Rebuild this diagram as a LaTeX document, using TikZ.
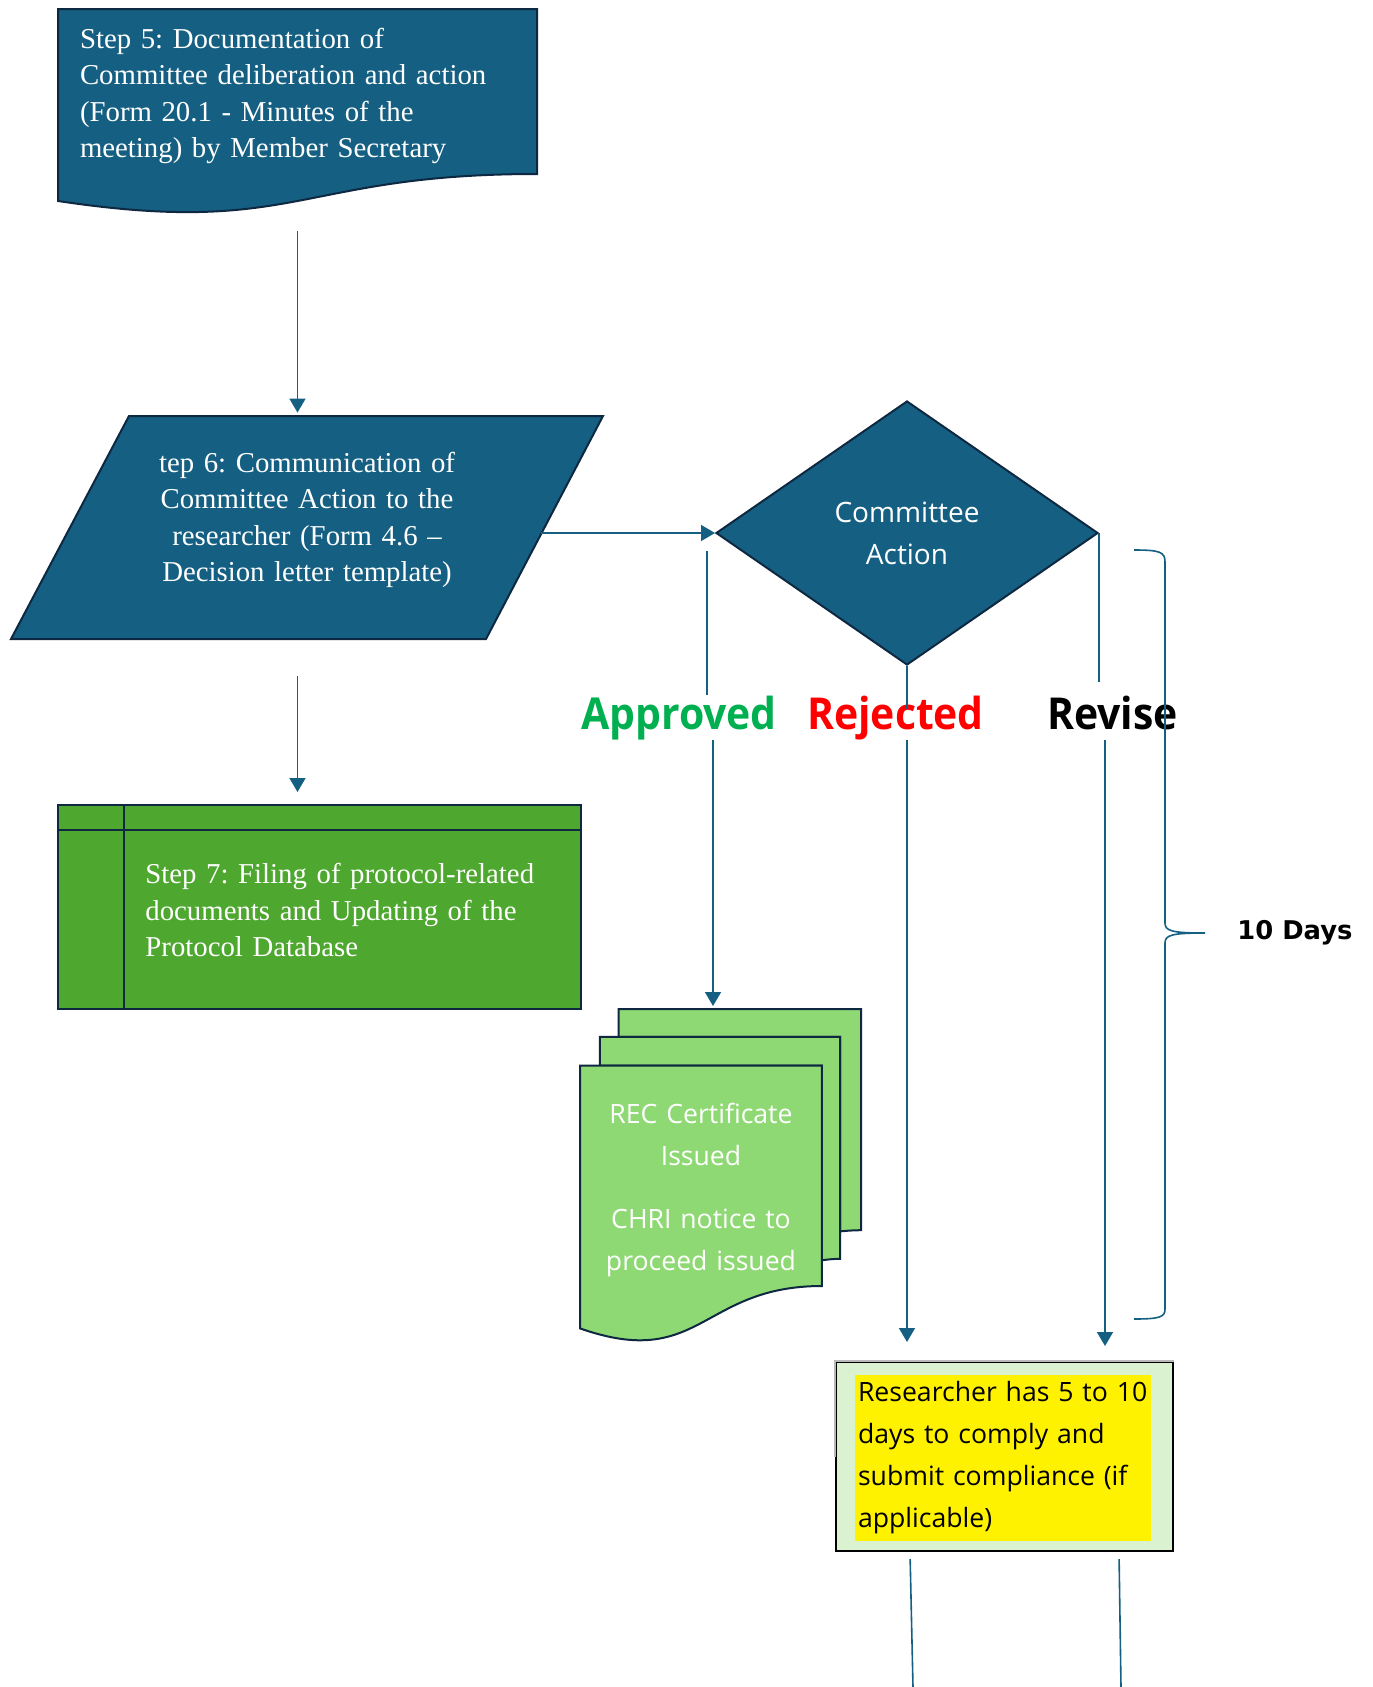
\documentclass[tikz,border=0pt]{standalone}
\usepackage{fontspec}
\setmainfont{Liberation Serif}
\newfontfamily\uifont{Open Sans}
\newfontfamily\verdictfont[FakeStretch=0.93]{Open Sans}
\newfontfamily\dayfont{DejaVu Sans}
\usepackage{tikz}
\usetikzlibrary{positioning}
\usetikzlibrary{arrows.meta, shapes.geometric}
\usepackage{xcolor}
\definecolor{stepblue}{HTML}{156082}
\definecolor{outline}{HTML}{0E2841}
\definecolor{stepgreen}{HTML}{4EA72E}
\definecolor{pagegreen}{HTML}{8ED973}
\definecolor{boxgreen}{HTML}{DAF2D0}
\definecolor{okgreen}{HTML}{00B050}
\frenchspacing

\begin{document}
\begin{tikzpicture}[x=0.5pt, y=-0.5pt,
  stepshape/.style = {fill=stepblue, draw=outline, line width=1pt},
  pagefill/.style = {fill=pagegreen, draw=outline, line width=1pt},
  steptext/.style = {text=white, inner sep=0pt, font=\fontsize{14.4}{18.2}\selectfont},
  uitext/.style = {inner sep=0pt, font=\uifont\fontsize{13.3}{21}\selectfont},
  verdict/.style = {inner sep=0pt, anchor=base, text height=16.7pt, text depth=5.3pt, font=\verdictfont\bfseries\fontsize{22}{26}\selectfont},
  flow/.style = {draw=stepblue, line width=0.8pt},
  arrowed/.style = {-{Triangle[length=7pt, width=8pt]}}]
\useasboundingbox (0,0) rectangle (1372,1687);

\draw[stepshape] (58,9) -- (537,9) -- (537,174) .. controls (297.5,174) and (297.5,237) .. (58,201) -- cycle;
\node[steptext, minimum width=239.5pt, minimum height=82.5pt, text width=217.5pt, align=left] (step5) at (297.5,96) {Step 5: Documentation of\\Committee deliberation and action\\(Form 20.1 - Minutes of the\\meeting) by Member Secretary};

\draw[stepshape] (129,416) -- (603,416) -- (486,639) -- (11,639) -- cycle;
\node[steptext, minimum width=234pt, minimum height=111.5pt, text width=220pt, align=center] (step6) at (307,520) {tep 6: Communication of\\Committee Action to the\\researcher (Form 4.6 –\\Decision letter template)};

\node[diamond, aspect=1.447, minimum width=191pt, minimum height=132pt, inner sep=0pt, fill=stepblue, draw=outline, line width=1pt, text=white, align=center, font=\uifont\fontsize{14}{19.4}\selectfont] (action) at (907,533) {Committee\\[1.5pt]Action};

\node[minimum width=261.5pt, minimum height=102pt, fill=stepgreen, draw=outline, line width=1pt] (step7) at (319.5,907) {};
\draw[outline, line width=1pt] ([xshift=33.5pt]step7.north west) -- ([xshift=33.5pt]step7.south west);
\draw[outline, line width=1pt] ([yshift=-13pt]step7.north west) -- ([yshift=-13pt]step7.north east);
\node[steptext, anchor=west, text width=215pt, align=left] (step7text) at (145,910) {Step 7: Filing of protocol-related\\documents and Updating of the\\Protocol Database};

\draw[pagefill] (618.7,1036.9) -- (618.7,1009) -- (861,1009) -- (861,1230.2) .. controls (850.6,1230.2) and (840.2,1231.4) .. (840.2,1231.4) -- (840.2,1036.9) -- cycle;
\draw[pagefill] (599.9,1065.5) -- (599.9,1036.9) -- (840.2,1036.9) -- (840.2,1258.8) .. controls (831.1,1258.8) and (821.9,1260.3) .. (821.9,1260.3) -- (821.9,1065.5) -- cycle;
\draw[pagefill] (580,1328.4) .. controls (701,1370.8) and (701,1286) .. (821.9,1286) -- (821.9,1065.5) -- (580,1065.5) -- cycle;
\node[uitext, text=white, text width=118pt, align=center] (cert) at (701,1190) {REC Certificate\\Issued\\[10.5pt]CHRI notice to\\proceed issued};

\node[fill=boxgreen, draw=black, line width=1pt, minimum width=168.5pt, minimum height=94.5pt, inner sep=0pt] (comply) at (1004.5,1456.5) {};
\draw[gray!55, line width=1pt] (comply.west) -- (comply.north west) -- (comply.north east);
\node[uitext, fill=yellow, text=black, inner xsep=1.5pt, minimum height=83pt, text width=145pt, align=left] (complytext) at (1003,1458) {Researcher has 5 to 10\\days to comply and\\submit compliance (if\\applicable)};

\node[verdict, text=okgreen] (approved) at (679,729) {Approved};
\node[verdict, text=red] (rejected) at (895.5,729) {Rejected};
\node[verdict, text=black] (revise) at (1112.5,729) {Revise};

\coordinate (apfork) at (707,551);
\coordinate (stacktop) at (713,1009);
\coordinate (revisex) at ([xshift=3pt]action.east);
\coordinate (outleft) at (913,1687);
\coordinate (outright) at (1121,1687);

\path (step5.south) edge[flow, arrowed, shorten <=26pt, shorten >=-2.25pt] (step5.south |- step6.north);
\path (step5.south |- step6.south) edge[flow, arrowed, shorten <=22.25pt, shorten >=6pt] (step5.south |- step7.north);
\path (step6.east |- action.west) edge[flow, arrowed] (action.west);
\path (apfork) edge[flow] (apfork |- approved.north);
\path (approved.south -| stacktop) edge[flow, arrowed, shorten >=1.5pt] (stacktop);
\path (action.south) edge[flow, shorten >=-7pt] (action.south |- rejected.north);
\path (action.south |- rejected.south) edge[flow, arrowed, shorten >=9.5pt] (action.south |- comply.north);
\path (action.east) edge[flow, shorten >=6.5pt] (action.east |- revise.north);
\path (revisex |- revise.south) edge[flow, arrowed, shorten >=7.5pt] (revisex |- comply.north);
\path ([xshift=-47.25pt]comply.south) edge[flow, shorten <=3.5pt] (outleft);
\path ([xshift=57.25pt]comply.south) edge[flow, shorten <=3.5pt] (outright);

\draw[flow] (1134,550) .. controls (1160,550) and (1165,552) .. (1165,562) -- (1165,923) .. controls (1165,931) and (1172,933) .. (1205,933) .. controls (1172,933) and (1165,935) .. (1165,943) -- (1165,1309) .. controls (1165,1317) and (1160,1319) .. (1134,1319);
\node[anchor=west, inner sep=0pt, font=\dayfont\bfseries\fontsize{12.9}{15}\selectfont] (days) at (1237,933) {10 Days};
\end{tikzpicture}
\end{document}
